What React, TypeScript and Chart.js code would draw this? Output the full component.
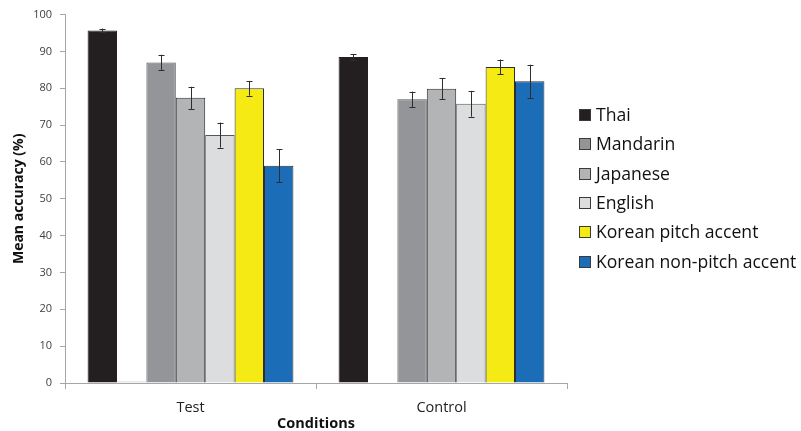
import { useEffect, useRef } from 'react';
import { Chart, registerables } from 'chart.js';

Chart.register(...registerables);

const conditions = ['Test', 'Control'];

const languages = [
  'Thai',
  'Mandarin',
  'Japanese',
  'English',
  'Korean pitch accent',
  'Korean non-pitch accent',
];

// mean accuracy (%) per condition: [Test, Control]
const thaiMean = [95.7, 88.5];
const mandarinMean = [87.0, 77.0];
const japaneseMean = [77.4, 79.9];
const englishMean = [67.3, 75.8];
const koreanPitchMean = [80.0, 85.8];
const koreanNonPitchMean = [59.0, 81.9];

// error bar half-widths
const thaiErr = [0.5, 0.7];
const mandarinErr = [2.1, 2.1];
const japaneseErr = [3.0, 2.9];
const englishErr = [3.4, 3.5];
const koreanPitchErr = [2.0, 2.0];
const koreanNonPitchErr = [4.5, 4.5];

// empty slot series that sits between Thai and Mandarin
const blankSlot = [0.5, 0];

const yTicks = { min: 0, max: 100, step: 10 };

const FONT = "'Open Sans', sans-serif";
const TEXT = '#404040';
const AXIS = '#a6a6a6';

const errorBars = {
  id: 'errorBars',
  afterDatasetsDraw(chart: any) {
    const { ctx } = chart;
    const y = chart.scales.y;
    chart.data.datasets.forEach((ds: any, i: number) => {
      if (!ds.errors) return;
      const meta = chart.getDatasetMeta(i);
      meta.data.forEach((bar: any, j: number) => {
        const v = ds.data[j];
        const e = ds.errors[j];
        const top = y.getPixelForValue(v + e);
        const bot = y.getPixelForValue(v - e);
        const x = Math.round(bar.x) + 0.5;
        ctx.save();
        ctx.strokeStyle = '#2e2e2e';
        ctx.lineWidth = 1;
        ctx.beginPath();
        ctx.moveTo(x, top);
        ctx.lineTo(x, bot);
        ctx.moveTo(x - 3, Math.round(top) + 0.5);
        ctx.lineTo(x + 3, Math.round(top) + 0.5);
        ctx.moveTo(x - 3, Math.round(bot) + 0.5);
        ctx.lineTo(x + 3, Math.round(bot) + 0.5);
        ctx.stroke();
        ctx.restore();
      });
    });
  },
};

const sideLegend = {
  id: 'sideLegend',
  afterDraw(chart: any) {
    const { ctx, chartArea } = chart;
    const items = chart.data.datasets.filter((d: any) => d.inLegend);
    const step = 29.3;
    const mid = (chartArea.top + chartArea.bottom) / 2 - 10.5;
    const startY = mid - ((items.length - 1) / 2) * step;
    const boxX = chartArea.right + 12;
    const size = 12;
    ctx.save();
    ctx.font = `17.6px ${FONT}`;
    ctx.textBaseline = 'middle';
    ctx.textAlign = 'left';
    items.forEach((d: any, i: number) => {
      const cy = Math.round(startY + i * step);
      ctx.fillStyle = d.backgroundColor;
      ctx.fillRect(boxX, cy - size / 2, size, size);
      ctx.strokeStyle = '#3a3a3a';
      ctx.lineWidth = 1;
      ctx.strokeRect(boxX + 0.5, cy - size / 2 + 0.5, size - 1, size - 1);
      ctx.fillStyle = '#111';
      ctx.fillText(d.label, boxX + size + 5, cy + 1);
    });
    ctx.restore();
  },
};

export default function App() {
  const ref = useRef<HTMLCanvasElement>(null);

  useEffect(() => {
    if (!ref.current) return;
    const bar = (
      label: string,
      data: number[],
      errors: number[] | null,
      color: string,
      border: string,
      inLegend = true
    ) => ({
      label,
      data,
      errors,
      inLegend,
      backgroundColor: color,
      borderColor: border,
      borderWidth: inLegend ? 1 : 0,
    });

    const chart = new Chart(ref.current, {
      type: 'bar',
      data: {
        labels: conditions,
        datasets: [
          bar(languages[0], thaiMean, thaiErr, '#231f20', '#231f20'),
          bar('', blankSlot, null, '#e2e3e4', '#e2e3e4', false),
          bar(languages[1], mandarinMean, mandarinErr, '#939598', '#555555'),
          bar(languages[2], japaneseMean, japaneseErr, '#b3b4b6', '#2e2e2e'),
          bar(languages[3], englishMean, englishErr, '#dcdddf', '#555555'),
          bar(languages[4], koreanPitchMean, koreanPitchErr, '#f5ea14', '#2e2e2e'),
          bar(languages[5], koreanNonPitchMean, koreanNonPitchErr, '#1b6db7', '#2e2e2e'),
        ] as any,
      },
      options: {
        animation: false,
        responsive: true,
        maintainAspectRatio: false,
        layout: { padding: { top: 14, right: 234, bottom: 0, left: 0 } },
        datasets: { bar: { categoryPercentage: 0.82, barPercentage: 1 } },
        plugins: {
          legend: { display: false },
          tooltip: { enabled: false },
        },
        scales: {
          x: {
            offset: true,
            grid: {
              offset: true,
              drawOnChartArea: false,
              drawTicks: true,
              tickLength: 6,
              color: AXIS,
            },
            border: { color: AXIS, width: 1 },
            ticks: { color: '#222', font: { family: FONT, size: 14.5 }, padding: 10 },
            title: {
              display: true,
              text: 'Conditions',
              color: '#111',
              font: { family: FONT, size: 14.5, weight: 'bold', lineHeight: 1 },
              padding: { top: 0, bottom: 0 },
            },
            afterFit: (s: any) => {
              s.height = 48;
            },
          },
          y: {
            min: yTicks.min,
            max: yTicks.max,
            ticks: {
              stepSize: yTicks.step,
              color: TEXT,
              font: { family: FONT, size: 11 },
              padding: 8,
            },
            grid: {
              drawOnChartArea: false,
              drawTicks: true,
              tickLength: 5,
              color: AXIS,
            },
            border: { color: AXIS, width: 1 },
            title: {
              display: true,
              text: 'Mean accuracy (%)',
              color: '#111',
              font: { family: FONT, size: 14, weight: 'bold' },
              padding: { top: 11, bottom: 0 },
            },
            afterFit: (s: any) => {
              s.width = 65;
            },
          },
        },
      },
      plugins: [errorBars, sideLegend],
    });
    return () => chart.destroy();
  }, []);

  return (
    <div style={{ position: 'fixed', left: 0, top: 0, width: 801, height: 431, background: '#fff' }}>
      <canvas ref={ref} />
    </div>
  );
}
